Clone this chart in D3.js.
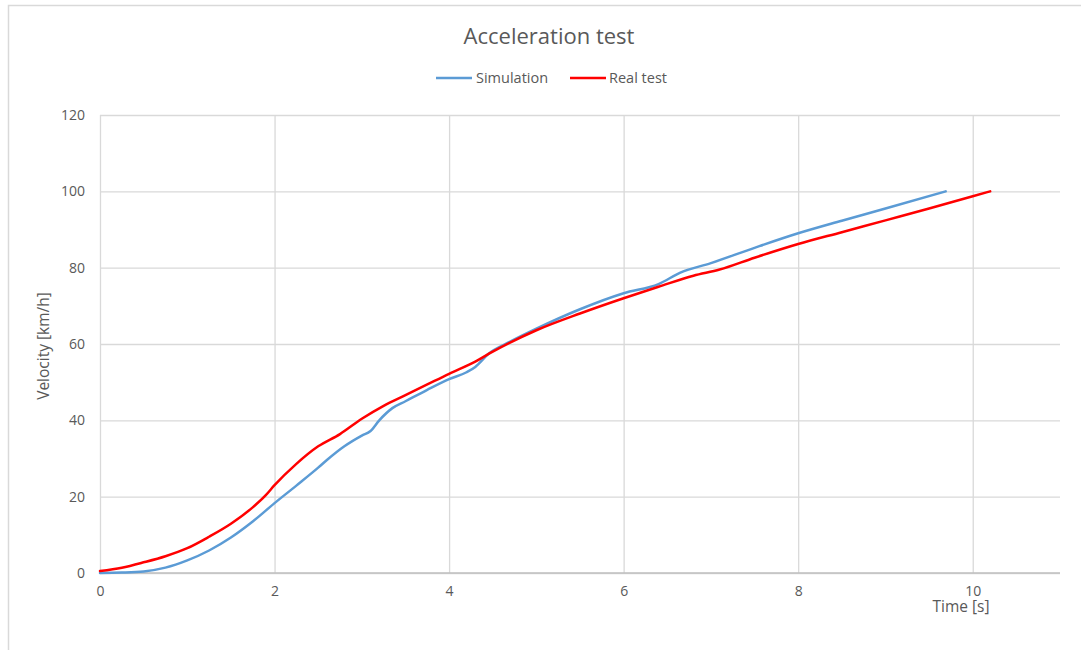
<!DOCTYPE html>
<html>
<head>
<meta charset="utf-8">
<script src="https://cdn.jsdelivr.net/npm/d3@7"></script>
<style>
  html, body { margin: 0; padding: 0; background: #fff; }
  svg { display: block; }
  text { font-family: "Open Sans", "Noto Sans", sans-serif; fill: #595959; }
</style>
</head>
<body>
<svg id="chart" width="1081" height="650"></svg>
<script>
// Time axis samples [s] and velocities [km/h]
const simTime = [0, 0.25, 0.5, 0.75, 1.0, 1.25, 1.5, 1.75, 2.0, 2.25, 2.5, 2.6, 2.8, 3.0, 3.1, 3.2, 3.35, 3.5, 3.75, 4.0, 4.2, 4.3, 4.45, 4.7, 5.0, 5.5, 6.0, 6.4, 6.65, 7.0, 7.5, 8.0, 8.5, 9.0, 9.69];
const simVel  = [0, 0.1, 0.4, 1.4, 3.3, 5.9, 9.3, 13.5, 18.3, 22.9, 27.6, 29.6, 33.2, 36.0, 37.2, 40.0, 43.2, 45.0, 48.0, 50.8, 52.6, 54.0, 57.4, 60.6, 64.0, 69.1, 73.3, 75.7, 78.7, 81.2, 85.2, 89.0, 92.3, 95.5, 100];
const realTime = [0, 0.25, 0.5, 0.75, 1.0, 1.25, 1.5, 1.75, 1.9, 2.0, 2.25, 2.5, 2.75, 3.0, 3.25, 3.5, 3.75, 4.0, 4.3, 4.5, 5.0, 5.5, 6.0, 6.4, 6.8, 7.1, 7.5, 8.0, 8.5, 9.0, 9.5, 10.0, 10.2];
const realVel  = [0.5, 1.4, 2.8, 4.4, 6.5, 9.5, 12.9, 17.2, 20.4, 23.0, 28.6, 33.2, 36.4, 40.4, 43.8, 46.6, 49.4, 52.2, 55.4, 58.0, 63.6, 68.0, 72.0, 75.0, 77.9, 79.5, 82.6, 86.2, 89.3, 92.4, 95.5, 98.7, 100];

const seriesNames = ["Simulation", "Real test"];
const seriesColors = ["#5b9bd5", "#ff0000"];
const xTicks = [0, 2, 4, 6, 8, 10];
const yTicks = [0, 20, 40, 60, 80, 100, 120];

const series = [
  { name: seriesNames[0], color: seriesColors[0], values: simTime.map((t, i) => [t, simVel[i]]) },
  { name: seriesNames[1], color: seriesColors[1], values: realTime.map((t, i) => [t, realVel[i]]) }
];

const svg = d3.select("#chart");
const plot = { left: 100, right: 1060, top: 115, bottom: 573 };

const x = d3.scaleLinear().domain([0, 11]).range([plot.left, plot.right]);
const y = d3.scaleLinear().domain([0, 120]).range([plot.bottom, plot.top]);

// Outer frame (top and left edges)
svg.append("path")
  .attr("d", "M8.5,650 L8.5,5.5 L1081,5.5")
  .attr("fill", "none")
  .attr("stroke", "#d9d9d9")
  .attr("stroke-width", 1.5);

// Title
svg.append("text")
  .attr("x", 549).attr("y", 44)
  .attr("text-anchor", "middle")
  .style("font-size", "22px")
  .text("Acceleration test");

// Legend
const legend = svg.append("g");
const legendItems = [
  { lx: 436, tx: 476 },
  { lx: 570, tx: 609 }
];
series.forEach((s, i) => {
  const it = legendItems[i];
  legend.append("line")
    .attr("x1", it.lx).attr("x2", it.lx + 36)
    .attr("y1", 78).attr("y2", 78)
    .attr("stroke", s.color).attr("stroke-width", 2.5);
  legend.append("text")
    .attr("x", it.tx).attr("y", 83)
    .style("font-size", "14.5px")
    .text(s.name);
});

// Horizontal gridlines
svg.append("g")
  .attr("transform", `translate(${plot.left},0)`)
  .call(d3.axisLeft(y).tickValues(yTicks).tickSize(-(plot.right - plot.left)).tickFormat(d => d).tickPadding(15))
  .call(g => g.select(".domain").remove())
  .call(g => g.selectAll(".tick line").attr("stroke", "#d9d9d9").attr("stroke-width", 1.3))
  .call(g => g.selectAll(".tick text").style("font-size", "14px").attr("fill", "#595959"));

// Vertical gridlines and x tick labels
svg.append("g")
  .attr("transform", `translate(0,${plot.bottom})`)
  .call(d3.axisBottom(x).tickValues(xTicks).tickSize(-(plot.bottom - plot.top)).tickFormat(d => d).tickPadding(13))
  .call(g => g.select(".domain").remove())
  .call(g => g.selectAll(".tick line").attr("stroke", "#d9d9d9").attr("stroke-width", 1.3))
  .call(g => g.selectAll(".tick text").style("font-size", "14px").attr("fill", "#595959"));

// X axis baseline
svg.append("line")
  .attr("x1", plot.left).attr("x2", plot.right)
  .attr("y1", plot.bottom).attr("y2", plot.bottom)
  .attr("stroke", "#bfbfbf").attr("stroke-width", 1.5);

// Axis titles
svg.append("text")
  .attr("transform", "translate(49,346) rotate(-90)")
  .attr("text-anchor", "middle")
  .style("font-size", "15.5px")
  .text("Velocity [km/h]");

svg.append("text")
  .attr("x", 961).attr("y", 612)
  .attr("text-anchor", "middle")
  .style("font-size", "15.5px")
  .text("Time [s]");

// Data lines
const line = d3.line()
  .x(d => x(d[0]))
  .y(d => y(d[1]))
  .curve(d3.curveMonotoneX);

svg.append("g").selectAll("path")
  .data(series)
  .join("path")
  .attr("d", d => line(d.values))
  .attr("fill", "none")
  .attr("stroke", d => d.color)
  .attr("stroke-width", 2.5)
  .attr("stroke-linejoin", "round")
  .attr("stroke-linecap", "round");
</script>
</body>
</html>
